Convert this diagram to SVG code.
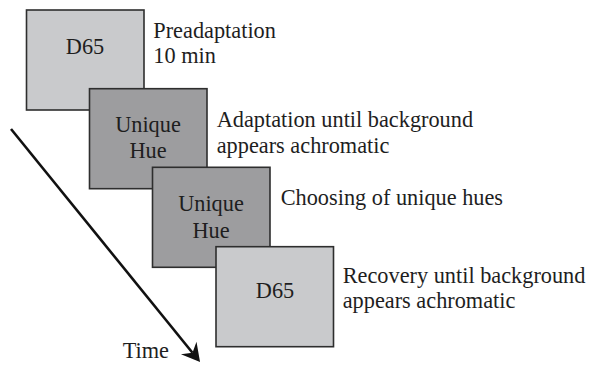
<svg xmlns="http://www.w3.org/2000/svg" width="589" height="366" viewBox="0 0 589 366">
  <style>
    .light { fill: #c9cacc; stroke: #2e2e2e; stroke-width: 1.6; }
    .dark { fill: #9d9d9f; stroke: #2e2e2e; stroke-width: 1.6; }
    text { font-family: "Liberation Serif", "Times New Roman", serif; font-size: 22.3px; fill: #1e1e1e; }
    .c { text-anchor: middle; }
    .conn { stroke: #111; stroke-width: 2.6; fill: none; }
  </style>
  <defs>
    <marker id="arrow" markerUnits="userSpaceOnUse" markerWidth="30" markerHeight="30" refX="0" refY="0" viewBox="-10 -15 30 30" orient="auto" overflow="visible">
      <path d="M12,0 L-6,-10 L0,0 L-6,10 Z" fill="#111"/>
    </marker>
  </defs>
  <rect width="589" height="366" fill="#ffffff"/>

  <g id="connectors">
    <line class="conn" x1="11" y1="129" x2="192.5" y2="352.7" marker-end="url(#arrow)"/>
  </g>

  <g id="node-preadaptation">
    <rect class="light" x="26.5" y="10" width="117.5" height="100"/>
    <text class="c" x="85" y="54">D65</text>
  </g>
  <g id="node-adaptation">
    <rect class="dark" x="89.5" y="88.7" width="117.5" height="100"/>
    <text class="c" x="148" y="131.7">Unique</text>
    <text class="c" x="148" y="157.7">Hue</text>
  </g>
  <g id="node-choosing">
    <rect class="dark" x="152.5" y="167.3" width="117.5" height="100"/>
    <text class="c" x="211" y="211">Unique</text>
    <text class="c" x="211" y="237.5">Hue</text>
  </g>
  <g id="node-recovery">
    <rect class="light" x="216" y="246.7" width="117.5" height="100"/>
    <text class="c" x="275" y="298.3">D65</text>
  </g>

  <g id="labels">
    <text x="153.3" y="38.3">Preadaptation</text>
    <text x="153.3" y="63.3">10 min</text>
    <text x="216.7" y="126.7">Adaptation until background</text>
    <text x="216.7" y="152.7">appears achromatic</text>
    <text x="280.7" y="205">Choosing of unique hues</text>
    <text x="342.7" y="282.5">Recovery until background</text>
    <text x="342.7" y="308">appears achromatic</text>
    <text x="122.7" y="358.3">Time</text>
  </g>
</svg>
